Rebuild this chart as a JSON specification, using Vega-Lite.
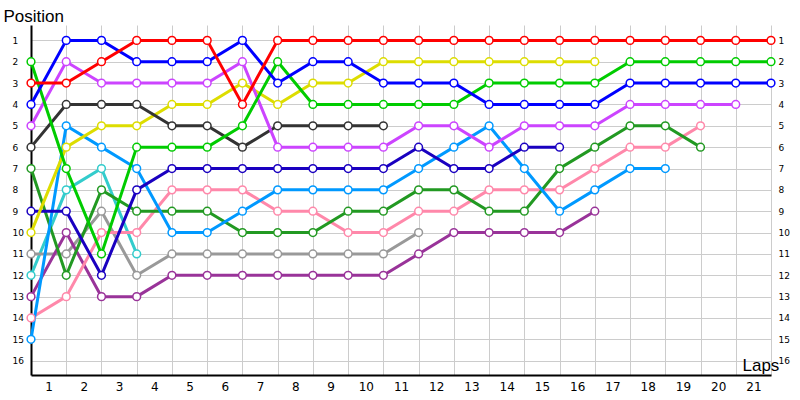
{
  "$schema": "https://vega.github.io/schema/vega-lite/v6.json",
  "width": 740,
  "height": 350,
  "autosize": "none",
  "padding": {"left": 31, "top": 25, "right": 29, "bottom": 25},
  "background": "white",
  "data": {
    "values": [
      {"car": "turquoise", "lap": 0, "pos": 12}, {"car": "turquoise", "lap": 1, "pos": 8}, {"car": "turquoise", "lap": 2, "pos": 7}, {"car": "turquoise", "lap": 3, "pos": 11},

      {"car": "gray", "lap": 0, "pos": 11}, {"car": "gray", "lap": 1, "pos": 11}, {"car": "gray", "lap": 2, "pos": 9}, {"car": "gray", "lap": 3, "pos": 12},
      {"car": "gray", "lap": 4, "pos": 11}, {"car": "gray", "lap": 5, "pos": 11}, {"car": "gray", "lap": 6, "pos": 11}, {"car": "gray", "lap": 7, "pos": 11},
      {"car": "gray", "lap": 8, "pos": 11}, {"car": "gray", "lap": 9, "pos": 11}, {"car": "gray", "lap": 10, "pos": 11}, {"car": "gray", "lap": 11, "pos": 10},

      {"car": "purple", "lap": 0, "pos": 13}, {"car": "purple", "lap": 1, "pos": 10}, {"car": "purple", "lap": 2, "pos": 13}, {"car": "purple", "lap": 3, "pos": 13},
      {"car": "purple", "lap": 4, "pos": 12}, {"car": "purple", "lap": 5, "pos": 12}, {"car": "purple", "lap": 6, "pos": 12}, {"car": "purple", "lap": 7, "pos": 12},
      {"car": "purple", "lap": 8, "pos": 12}, {"car": "purple", "lap": 9, "pos": 12}, {"car": "purple", "lap": 10, "pos": 12}, {"car": "purple", "lap": 11, "pos": 11},
      {"car": "purple", "lap": 12, "pos": 10}, {"car": "purple", "lap": 13, "pos": 10}, {"car": "purple", "lap": 14, "pos": 10}, {"car": "purple", "lap": 15, "pos": 10},
      {"car": "purple", "lap": 16, "pos": 9},

      {"car": "pink", "lap": 0, "pos": 14}, {"car": "pink", "lap": 1, "pos": 13}, {"car": "pink", "lap": 2, "pos": 10}, {"car": "pink", "lap": 3, "pos": 10},
      {"car": "pink", "lap": 4, "pos": 8}, {"car": "pink", "lap": 5, "pos": 8}, {"car": "pink", "lap": 6, "pos": 8}, {"car": "pink", "lap": 7, "pos": 9},
      {"car": "pink", "lap": 8, "pos": 9}, {"car": "pink", "lap": 9, "pos": 10}, {"car": "pink", "lap": 10, "pos": 10}, {"car": "pink", "lap": 11, "pos": 9},
      {"car": "pink", "lap": 12, "pos": 9}, {"car": "pink", "lap": 13, "pos": 8}, {"car": "pink", "lap": 14, "pos": 8}, {"car": "pink", "lap": 15, "pos": 8},
      {"car": "pink", "lap": 16, "pos": 7}, {"car": "pink", "lap": 17, "pos": 6}, {"car": "pink", "lap": 18, "pos": 6}, {"car": "pink", "lap": 19, "pos": 5},

      {"car": "forest", "lap": 0, "pos": 7}, {"car": "forest", "lap": 1, "pos": 12}, {"car": "forest", "lap": 2, "pos": 8}, {"car": "forest", "lap": 3, "pos": 9},
      {"car": "forest", "lap": 4, "pos": 9}, {"car": "forest", "lap": 5, "pos": 9}, {"car": "forest", "lap": 6, "pos": 10}, {"car": "forest", "lap": 7, "pos": 10},
      {"car": "forest", "lap": 8, "pos": 10}, {"car": "forest", "lap": 9, "pos": 9}, {"car": "forest", "lap": 10, "pos": 9}, {"car": "forest", "lap": 11, "pos": 8},
      {"car": "forest", "lap": 12, "pos": 8}, {"car": "forest", "lap": 13, "pos": 9}, {"car": "forest", "lap": 14, "pos": 9}, {"car": "forest", "lap": 15, "pos": 7},
      {"car": "forest", "lap": 16, "pos": 6}, {"car": "forest", "lap": 17, "pos": 5}, {"car": "forest", "lap": 18, "pos": 5}, {"car": "forest", "lap": 19, "pos": 6},

      {"car": "lightblue", "lap": 0, "pos": 15}, {"car": "lightblue", "lap": 1, "pos": 5}, {"car": "lightblue", "lap": 2, "pos": 6}, {"car": "lightblue", "lap": 3, "pos": 7},
      {"car": "lightblue", "lap": 4, "pos": 10}, {"car": "lightblue", "lap": 5, "pos": 10}, {"car": "lightblue", "lap": 6, "pos": 9}, {"car": "lightblue", "lap": 7, "pos": 8},
      {"car": "lightblue", "lap": 8, "pos": 8}, {"car": "lightblue", "lap": 9, "pos": 8}, {"car": "lightblue", "lap": 10, "pos": 8}, {"car": "lightblue", "lap": 11, "pos": 7},
      {"car": "lightblue", "lap": 12, "pos": 6}, {"car": "lightblue", "lap": 13, "pos": 5}, {"car": "lightblue", "lap": 14, "pos": 7}, {"car": "lightblue", "lap": 15, "pos": 9},
      {"car": "lightblue", "lap": 16, "pos": 8}, {"car": "lightblue", "lap": 17, "pos": 7}, {"car": "lightblue", "lap": 18, "pos": 7},

      {"car": "navy", "lap": 0, "pos": 9}, {"car": "navy", "lap": 1, "pos": 9}, {"car": "navy", "lap": 2, "pos": 12}, {"car": "navy", "lap": 3, "pos": 8},
      {"car": "navy", "lap": 4, "pos": 7}, {"car": "navy", "lap": 5, "pos": 7}, {"car": "navy", "lap": 6, "pos": 7}, {"car": "navy", "lap": 7, "pos": 7},
      {"car": "navy", "lap": 8, "pos": 7}, {"car": "navy", "lap": 9, "pos": 7}, {"car": "navy", "lap": 10, "pos": 7}, {"car": "navy", "lap": 11, "pos": 6},
      {"car": "navy", "lap": 12, "pos": 7}, {"car": "navy", "lap": 13, "pos": 7}, {"car": "navy", "lap": 14, "pos": 6}, {"car": "navy", "lap": 15, "pos": 6},

      {"car": "yellow", "lap": 0, "pos": 10}, {"car": "yellow", "lap": 1, "pos": 6}, {"car": "yellow", "lap": 2, "pos": 5}, {"car": "yellow", "lap": 3, "pos": 5},
      {"car": "yellow", "lap": 4, "pos": 4}, {"car": "yellow", "lap": 5, "pos": 4}, {"car": "yellow", "lap": 6, "pos": 3}, {"car": "yellow", "lap": 7, "pos": 4},
      {"car": "yellow", "lap": 8, "pos": 3}, {"car": "yellow", "lap": 9, "pos": 3}, {"car": "yellow", "lap": 10, "pos": 2}, {"car": "yellow", "lap": 11, "pos": 2},
      {"car": "yellow", "lap": 12, "pos": 2}, {"car": "yellow", "lap": 13, "pos": 2}, {"car": "yellow", "lap": 14, "pos": 2}, {"car": "yellow", "lap": 15, "pos": 2},
      {"car": "yellow", "lap": 16, "pos": 2},

      {"car": "darkgray", "lap": 0, "pos": 6}, {"car": "darkgray", "lap": 1, "pos": 4}, {"car": "darkgray", "lap": 2, "pos": 4}, {"car": "darkgray", "lap": 3, "pos": 4},
      {"car": "darkgray", "lap": 4, "pos": 5}, {"car": "darkgray", "lap": 5, "pos": 5}, {"car": "darkgray", "lap": 6, "pos": 6}, {"car": "darkgray", "lap": 7, "pos": 5},
      {"car": "darkgray", "lap": 8, "pos": 5}, {"car": "darkgray", "lap": 9, "pos": 5}, {"car": "darkgray", "lap": 10, "pos": 5},

      {"car": "magenta", "lap": 0, "pos": 5}, {"car": "magenta", "lap": 1, "pos": 2}, {"car": "magenta", "lap": 2, "pos": 3}, {"car": "magenta", "lap": 3, "pos": 3},
      {"car": "magenta", "lap": 4, "pos": 3}, {"car": "magenta", "lap": 5, "pos": 3}, {"car": "magenta", "lap": 6, "pos": 2}, {"car": "magenta", "lap": 7, "pos": 6},
      {"car": "magenta", "lap": 8, "pos": 6}, {"car": "magenta", "lap": 9, "pos": 6}, {"car": "magenta", "lap": 10, "pos": 6}, {"car": "magenta", "lap": 11, "pos": 5},
      {"car": "magenta", "lap": 12, "pos": 5}, {"car": "magenta", "lap": 13, "pos": 6}, {"car": "magenta", "lap": 14, "pos": 5}, {"car": "magenta", "lap": 15, "pos": 5},
      {"car": "magenta", "lap": 16, "pos": 5}, {"car": "magenta", "lap": 17, "pos": 4}, {"car": "magenta", "lap": 18, "pos": 4}, {"car": "magenta", "lap": 19, "pos": 4},
      {"car": "magenta", "lap": 20, "pos": 4},

      {"car": "green", "lap": 0, "pos": 2}, {"car": "green", "lap": 1, "pos": 7}, {"car": "green", "lap": 2, "pos": 11}, {"car": "green", "lap": 3, "pos": 6},
      {"car": "green", "lap": 4, "pos": 6}, {"car": "green", "lap": 5, "pos": 6}, {"car": "green", "lap": 6, "pos": 5}, {"car": "green", "lap": 7, "pos": 2},
      {"car": "green", "lap": 8, "pos": 4}, {"car": "green", "lap": 9, "pos": 4}, {"car": "green", "lap": 10, "pos": 4}, {"car": "green", "lap": 11, "pos": 4},
      {"car": "green", "lap": 12, "pos": 4}, {"car": "green", "lap": 13, "pos": 3}, {"car": "green", "lap": 14, "pos": 3}, {"car": "green", "lap": 15, "pos": 3},
      {"car": "green", "lap": 16, "pos": 3}, {"car": "green", "lap": 17, "pos": 2}, {"car": "green", "lap": 18, "pos": 2}, {"car": "green", "lap": 19, "pos": 2},
      {"car": "green", "lap": 20, "pos": 2}, {"car": "green", "lap": 21, "pos": 2},

      {"car": "blue", "lap": 0, "pos": 4}, {"car": "blue", "lap": 1, "pos": 1}, {"car": "blue", "lap": 2, "pos": 1}, {"car": "blue", "lap": 3, "pos": 2},
      {"car": "blue", "lap": 4, "pos": 2}, {"car": "blue", "lap": 5, "pos": 2}, {"car": "blue", "lap": 6, "pos": 1}, {"car": "blue", "lap": 7, "pos": 3},
      {"car": "blue", "lap": 8, "pos": 2}, {"car": "blue", "lap": 9, "pos": 2}, {"car": "blue", "lap": 10, "pos": 3}, {"car": "blue", "lap": 11, "pos": 3},
      {"car": "blue", "lap": 12, "pos": 3}, {"car": "blue", "lap": 13, "pos": 4}, {"car": "blue", "lap": 14, "pos": 4}, {"car": "blue", "lap": 15, "pos": 4},
      {"car": "blue", "lap": 16, "pos": 4}, {"car": "blue", "lap": 17, "pos": 3}, {"car": "blue", "lap": 18, "pos": 3}, {"car": "blue", "lap": 19, "pos": 3},
      {"car": "blue", "lap": 20, "pos": 3}, {"car": "blue", "lap": 21, "pos": 3},

      {"car": "red", "lap": 0, "pos": 3}, {"car": "red", "lap": 1, "pos": 3}, {"car": "red", "lap": 2, "pos": 2}, {"car": "red", "lap": 3, "pos": 1},
      {"car": "red", "lap": 4, "pos": 1}, {"car": "red", "lap": 5, "pos": 1}, {"car": "red", "lap": 6, "pos": 4}, {"car": "red", "lap": 7, "pos": 1},
      {"car": "red", "lap": 8, "pos": 1}, {"car": "red", "lap": 9, "pos": 1}, {"car": "red", "lap": 10, "pos": 1}, {"car": "red", "lap": 11, "pos": 1},
      {"car": "red", "lap": 12, "pos": 1}, {"car": "red", "lap": 13, "pos": 1}, {"car": "red", "lap": 14, "pos": 1}, {"car": "red", "lap": 15, "pos": 1},
      {"car": "red", "lap": 16, "pos": 1}, {"car": "red", "lap": 17, "pos": 1}, {"car": "red", "lap": 18, "pos": 1}, {"car": "red", "lap": 19, "pos": 1},
      {"car": "red", "lap": 20, "pos": 1}, {"car": "red", "lap": 21, "pos": 1}
    ]
  },
  "encoding": {
    "x": {
      "field": "lap",
      "type": "quantitative",
      "scale": {"domain": [0, 21], "nice": false, "zero": false},
      "axis": {
        "values": [1, 2, 3, 4, 5, 6, 7, 8, 9, 10, 11, 12, 13, 14, 15, 16, 17, 18, 19, 20, 21],
        "grid": true,
        "gridColor": "#cccccc",
        "gridWidth": 1,
        "domainColor": "black",
        "domainWidth": 2,
        "ticks": false,
        "tickSize": 0,
        "labelOffset": -17.6,
        "labelPadding": 6,
        "labelFlush": false,
        "labelOverlap": false,
        "labelBound": false,
        "labelFont": "DejaVu Sans",
        "labelFontSize": 12,
        "labelColor": "black",
        "title": "Laps",
        "titleFont": "Liberation Sans",
        "titleFontSize": 17,
        "titleFontWeight": "normal",
        "titleColor": "black",
        "titleAlign": "left",
        "titleBaseline": "alphabetic",
        "titleX": 711,
        "titleY": -5
      }
    },
    "color": {
      "field": "car",
      "type": "nominal",
      "legend": null,
      "scale": {
        "domain": ["red", "blue", "green", "magenta", "darkgray", "yellow", "navy", "lightblue", "forest", "pink", "turquoise", "gray", "purple"],
        "range": ["#ff0000", "#0000ff", "#00cc00", "#cc44ff", "#333333", "#dddd00", "#1a00c0", "#0099ff", "#229922", "#ff88aa", "#33cccc", "#999999", "#993399"]
      }
    }
  },
  "layer": [
    {
      "mark": {"type": "line", "strokeWidth": 3},
      "encoding": {
        "y": {
          "field": "pos",
          "type": "quantitative",
          "scale": {"domain": [0.28, 16.67], "reverse": true, "nice": false, "zero": false},
          "axis": {
            "orient": "left",
            "values": [1, 2, 3, 4, 5, 6, 7, 8, 9, 10, 11, 12, 13, 14, 15, 16],
            "grid": true,
            "gridColor": "#cccccc",
            "gridWidth": 1,
            "domainColor": "black",
            "domainWidth": 2,
            "ticks": false,
            "tickSize": 0,
            "labelAlign": "left",
            "labelBaseline": "middle",
            "labelPadding": 19,
            "labelFlush": false,
            "labelOverlap": false,
            "labelFont": "DejaVu Sans",
            "labelFontSize": 9,
            "labelColor": "black",
            "title": "Position",
            "titleFont": "Liberation Sans",
            "titleFontSize": 17,
            "titleFontWeight": "normal",
            "titleColor": "black",
            "titleAngle": 0,
            "titleAlign": "left",
            "titleBaseline": "alphabetic",
            "titleX": -28,
            "titleY": -4
          }
        }
      }
    },
    {
      "mark": {"type": "point", "filled": false, "fill": "white", "fillOpacity": 1, "opacity": 1, "size": 60, "strokeWidth": 1.5},
      "encoding": {
        "y": {
          "field": "pos",
          "type": "quantitative",
          "scale": {"domain": [0.28, 16.67], "reverse": true, "nice": false, "zero": false},
          "axis": {
            "orient": "right",
            "values": [1, 2, 3, 4, 5, 6, 7, 8, 9, 10, 11, 12, 13, 14, 15, 16],
            "grid": false,
            "domain": false,
            "ticks": false,
            "tickSize": 0,
            "labelAlign": "left",
            "labelBaseline": "middle",
            "labelPadding": 7,
            "labelFlush": false,
            "labelOverlap": false,
            "labelFont": "DejaVu Sans",
            "labelFontSize": 9,
            "labelColor": "black",
            "title": null
          }
        }
      }
    }
  ],
  "resolve": {"scale": {"y": "independent"}},
  "config": {
    "view": {"stroke": null}
  }
}
